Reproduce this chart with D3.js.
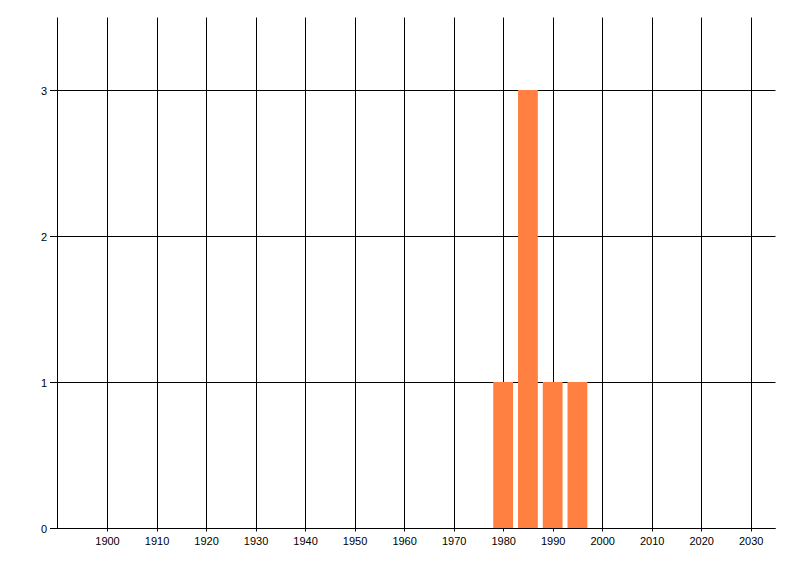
<!DOCTYPE html>
<html><head><meta charset="utf-8">
<script src="https://cdn.jsdelivr.net/npm/d3@7"></script>
<style>body{margin:0;background:#fff;}svg{display:block;}</style>
</head><body>
<svg id="c" width="800" height="576"></svg>
<script>
const binStarts = [1980, 1985, 1990, 1995];
const counts = [1, 3, 1, 1];
const xTicks = [1900,1910,1920,1930,1940,1950,1960,1970,1980,1990,2000,2010,2020,2030];
const yTicks = [0,1,2,3];

const svg = d3.select("#c");
const x = d3.scaleLinear().domain([1890, 2035]).range([57.5, 775.5]);
const y = d3.scaleLinear().domain([0, 3.5]).range([528.5, 17.5]);
const font = "'Liberation Sans', Arial, sans-serif";

// vertical gridlines
svg.append("g").selectAll("line").data(xTicks).join("line")
  .attr("x1", d => Math.round(x(d)) + 0.5).attr("x2", d => Math.round(x(d)) + 0.5)
  .attr("y1", y(3.5)).attr("y2", y(0) + 3)
  .attr("stroke", "#000").attr("stroke-width", 1);

// horizontal gridlines
svg.append("g").selectAll("line").data(yTicks).join("line")
  .attr("x1", 50).attr("x2", x(2035))
  .attr("y1", d => Math.round(y(d) - 0.5) + 0.5).attr("y2", d => Math.round(y(d) - 0.5) + 0.5)
  .attr("stroke", "#000").attr("stroke-width", 1);

// left axis line
svg.append("line").attr("x1", x(1890)).attr("x2", x(1890))
  .attr("y1", y(3.5)).attr("y2", y(0)).attr("stroke", "#000");

// bars
const bw = x(1894) - x(1890);
svg.append("g").selectAll("rect").data(binStarts).join("rect")
  .attr("x", d => x(d) - bw / 2)
  .attr("width", bw)
  .attr("y", (d, i) => y(counts[i]) - 0.5)
  .attr("height", (d, i) => y(0) - y(counts[i]))
  .attr("fill", "#FF8040");

// redraw bottom axis over bars
svg.append("line").attr("x1", 50).attr("x2", x(2035))
  .attr("y1", Math.round(y(0) - 0.5) + 0.5).attr("y2", Math.round(y(0) - 0.5) + 0.5)
  .attr("stroke", "#000");

// y labels
svg.append("g").selectAll("text").data(yTicks).join("text")
  .attr("x", 47).attr("y", d => y(d) + 4)
  .attr("text-anchor", "end").attr("font-family", font).attr("font-size", 11)
  .text(d => d);

// x labels
svg.append("g").selectAll("text").data(xTicks).join("text")
  .attr("x", d => x(d) + 0.5).attr("y", 545)
  .attr("text-anchor", "middle").attr("font-family", font).attr("font-size", 11)
  .text(d => d);
</script>
</body></html>
